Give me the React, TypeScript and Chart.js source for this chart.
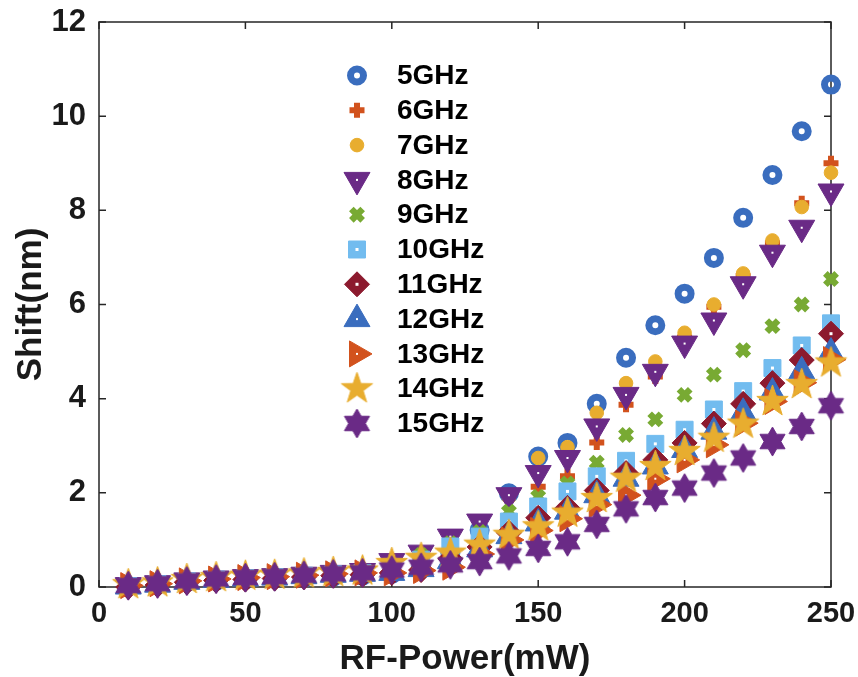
import React, { useEffect, useRef } from 'react';
import { Chart, registerables } from 'chart.js';
import { drawPoint } from 'chart.js/helpers';

Chart.register(...registerables);

const powers = [10, 20, 30, 40, 50, 60, 70, 80, 90, 100, 110, 120, 130, 140, 150, 160, 170, 180, 190, 200, 210, 220, 230, 240, 250];
const seriesNames = ['5GHz', '6GHz', '7GHz', '8GHz', '9GHz', '10GHz', '11GHz', '12GHz', '13GHz', '14GHz', '15GHz'];
const shift5 = [0.02, 0.05, 0.1, 0.13, 0.16, 0.18, 0.2, 0.22, 0.24, 0.28, 0.42, 0.72, 1.21, 1.99, 2.77, 3.06, 3.89, 4.87, 5.56, 6.23, 6.99, 7.84, 8.75, 9.68, 10.67];
const shift6 = [0.04, 0.08, 0.14, 0.18, 0.21, 0.23, 0.26, 0.29, 0.31, 0.36, 0.48, 0.68, 1.0, 1.45, 2.13, 2.35, 3.07, 3.87, 4.47, 5.3, 5.95, 6.6, 7.3, 8.15, 9.0];
const shift7 = [0.03, 0.07, 0.13, 0.17, 0.2, 0.22, 0.25, 0.28, 0.31, 0.38, 0.55, 0.82, 1.2, 1.9, 2.74, 2.97, 3.7, 4.33, 4.79, 5.4, 6.0, 6.66, 7.36, 8.07, 8.8];
const shift8 = [0.04, 0.08, 0.14, 0.18, 0.21, 0.23, 0.26, 0.3, 0.34, 0.55, 0.73, 1.07, 1.39, 1.95, 2.42, 2.74, 3.41, 4.08, 4.57, 5.17, 5.66, 6.43, 7.1, 7.63, 8.4];
const shift9 = [0.03, 0.07, 0.13, 0.17, 0.2, 0.22, 0.25, 0.28, 0.31, 0.42, 0.68, 0.93, 1.17, 1.6, 1.92, 2.2, 2.64, 3.23, 3.56, 4.08, 4.51, 5.03, 5.54, 6.0, 6.54];
const shift10 = [0.02, 0.06, 0.12, 0.16, 0.19, 0.21, 0.24, 0.27, 0.3, 0.35, 0.58, 0.86, 1.07, 1.39, 1.71, 2.03, 2.35, 2.68, 3.04, 3.34, 3.77, 4.16, 4.65, 5.13, 5.6];
const shift11 = [0.0, 0.04, 0.1, 0.14, 0.16, 0.18, 0.21, 0.24, 0.26, 0.3, 0.36, 0.6, 0.85, 1.15, 1.47, 1.68, 2.05, 2.42, 2.7, 3.06, 3.47, 3.89, 4.33, 4.82, 5.38];
const shift12 = [0.01, 0.05, 0.11, 0.15, 0.18, 0.2, 0.23, 0.26, 0.28, 0.3, 0.38, 0.55, 0.8, 1.08, 1.35, 1.6, 1.95, 2.3, 2.56, 2.91, 3.3, 3.7, 4.13, 4.58, 4.98];
const shift13 = [0.03, 0.07, 0.13, 0.17, 0.2, 0.22, 0.25, 0.28, 0.3, 0.3, 0.35, 0.42, 0.7, 1.0, 1.2, 1.45, 1.75, 1.95, 2.3, 2.7, 3.02, 3.48, 3.94, 4.34, 4.83];
const shift14 = [0.05, 0.09, 0.16, 0.2, 0.23, 0.25, 0.28, 0.31, 0.34, 0.5, 0.61, 0.72, 0.89, 1.1, 1.28, 1.57, 1.88, 2.31, 2.56, 2.88, 3.16, 3.46, 3.94, 4.3, 4.76];
const shift15 = [0.03, 0.07, 0.13, 0.17, 0.2, 0.22, 0.25, 0.28, 0.3, 0.36, 0.42, 0.47, 0.54, 0.66, 0.82, 0.96, 1.33, 1.66, 1.9, 2.1, 2.42, 2.74, 3.09, 3.41, 3.85];
const xTicks = [0, 50, 100, 150, 200, 250];
const yTicks = [0, 2, 4, 6, 8, 10, 12];

const allShifts = [shift5, shift6, shift7, shift8, shift9, shift10, shift11, shift12, shift13, shift14, shift15];

function makeStar(points: number, outer: number, inner: number, color: string): HTMLCanvasElement {
  const size = Math.ceil(outer * 2 + 4);
  const c = document.createElement('canvas');
  c.width = size;
  c.height = size;
  const g = c.getContext('2d')!;
  const cx = size / 2, cy = size / 2;
  g.beginPath();
  for (let k = 0; k < points * 2; k++) {
    const r = k % 2 === 0 ? outer : inner;
    const a = -Math.PI / 2 + (k * Math.PI) / points;
    const px = cx + r * Math.cos(a), py = cy + r * Math.sin(a);
    if (k === 0) g.moveTo(px, py); else g.lineTo(px, py);
  }
  g.closePath();
  g.fillStyle = color;
  g.fill();
  g.lineWidth = 1;
  g.strokeStyle = color;
  g.stroke();
  return c;
}

const BLUE = '#3a6dbe';
const ORANGE = '#d2521d';
const YELLOW = '#e8ad2f';
const PURPLE = '#6a2a86';
const GREEN = '#78aa33';
const LBLUE = '#72bcef';
const DRED = '#8c1a2e';

type Sty = { color: string; style: any; radius: number; rotation: number; border: number; fill: boolean; dot: number };

function App() {
  const ref = useRef<HTMLCanvasElement>(null);
  useEffect(() => {
    const styles: Sty[] = [
      { color: BLUE, style: 'circle', radius: 6.5, rotation: 0, border: 7, fill: false, dot: 0 },
      { color: ORANGE, style: 'cross', radius: 7.5, rotation: 0, border: 6, fill: true, dot: 0 },
      { color: YELLOW, style: 'circle', radius: 6.8, rotation: 0, border: 1, fill: true, dot: 0 },
      { color: PURPLE, style: 'triangle', radius: 15, rotation: 180, border: 1, fill: true, dot: 2 },
      { color: GREEN, style: 'crossRot', radius: 8, rotation: 0, border: 6.5, fill: true, dot: 0 },
      { color: LBLUE, style: 'rect', radius: 12, rotation: 0, border: 1, fill: true, dot: 3 },
      { color: DRED, style: 'rectRot', radius: 12.5, rotation: 0, border: 1, fill: true, dot: 3 },
      { color: BLUE, style: 'triangle', radius: 15, rotation: 0, border: 1, fill: true, dot: 2 },
      { color: ORANGE, style: 'triangle', radius: 15, rotation: 90, border: 1, fill: true, dot: 2 },
      { color: YELLOW, style: makeStar(5, 16.5, 6.5, YELLOW), radius: 16.5, rotation: 0, border: 0, fill: true, dot: 0 },
      { color: PURPLE, style: makeStar(6, 14.5, 8.4, PURPLE), radius: 14.5, rotation: 0, border: 0, fill: true, dot: 0 },
    ];

    const datasets = seriesNames.map((name, i) => {
      const s = styles[i];
      return {
        label: name,
        data: powers.map((p, j) => ({ x: p, y: allShifts[i][j] })),
        showLine: false,
        clip: false as any,
        order: -i,
        pointStyle: s.style,
        pointRadius: s.radius,
        pointRotation: s.rotation,
        pointBorderWidth: s.border,
        pointBorderColor: s.color,
        pointBackgroundColor: s.fill ? s.color : 'rgba(0,0,0,0)',
        pointHoverRadius: s.radius,
      };
    });

    const dotAt = (ctx: any, d: number, x: number, y: number) => {
      ctx.fillStyle = '#ffffff';
      ctx.fillRect(x - d / 2, y - d / 2, d, d);
    };

    const frame = {
      id: 'frame',
      beforeDatasetsDraw(chart: any) {
        const { ctx, chartArea } = chart;
        const { left, right, top, bottom } = chartArea;
        const xs = chart.scales.x, ys = chart.scales.y;
        ctx.save();
        ctx.strokeStyle = '#262626';
        ctx.lineWidth = 1.5;
        ctx.strokeRect(left, top, right - left, bottom - top);
        ctx.beginPath();
        xTicks.forEach((v) => {
          const px = xs.getPixelForValue(v);
          ctx.moveTo(px, bottom); ctx.lineTo(px, bottom - 7);
          ctx.moveTo(px, top); ctx.lineTo(px, top + 7);
        });
        yTicks.forEach((v) => {
          const py = ys.getPixelForValue(v);
          ctx.moveTo(left, py); ctx.lineTo(left + 7, py);
          ctx.moveTo(right, py); ctx.lineTo(right - 7, py);
        });
        ctx.stroke();
        ctx.restore();
      },
      afterDatasetDraw(chart: any, args: any) {
        const s = styles[args.index];
        if (!s || !s.dot) return;
        const ctx = chart.ctx;
        ctx.save();
        args.meta.data.forEach((pt: any) => dotAt(ctx, s.dot, pt.x, pt.y));
        ctx.restore();
      },
      afterDatasetsDraw(chart: any) {
        const ctx = chart.ctx;
        ctx.save();
        const mx = 357, tx = 397, y0 = 75.5, dy = 34.8;
        seriesNames.forEach((name, i) => {
          const s = styles[i];
          const y = y0 + i * dy;
          ctx.fillStyle = s.fill ? s.color : 'rgba(0,0,0,0)';
          ctx.strokeStyle = s.color;
          ctx.lineWidth = s.border;
          drawPoint(ctx, { pointStyle: s.style, rotation: s.rotation, radius: s.radius, borderWidth: s.border } as any, mx, y);
          if (s.dot) dotAt(ctx, s.dot, mx, y);
          ctx.fillStyle = '#000000';
          ctx.font = 'bold 28px "Liberation Sans", Arial, sans-serif';
          ctx.textBaseline = 'middle';
          ctx.textAlign = 'left';
          ctx.fillText(name, tx, y + 1);
        });
        ctx.restore();
      },
    };

    const zeroPad = (s: any) => {
      s.paddingLeft = 0;
      s.paddingRight = 0;
      s.paddingTop = 0;
      s.paddingBottom = 0;
    };

    const chart = new Chart(ref.current!, {
      type: 'scatter',
      data: { datasets: datasets as any },
      options: {
        animation: false,
        responsive: false,
        layout: { autoPadding: false, padding: { top: 22, right: 27, left: 0, bottom: 0 } },
        plugins: { legend: { display: false }, tooltip: { enabled: false } },
        scales: {
          x: {
            type: 'linear',
            min: 0,
            max: 250,
            grid: { display: false, drawTicks: false },
            border: { display: false },
            ticks: {
              stepSize: 50,
              padding: 10,
              color: '#1a1a1a',
              font: { family: '"Liberation Sans", Arial, sans-serif', size: 29, weight: 'bold' },
            },
            title: {
              display: true,
              text: 'RF-Power(mW)',
              color: '#1a1a1a',
              font: { family: '"Liberation Sans", Arial, sans-serif', size: 35, weight: 'bold', lineHeight: 1 },
              padding: { top: 0, bottom: 0 },
            },
            afterFit: (s: any) => { s.height = 90; zeroPad(s); },
          },
          y: {
            type: 'linear',
            min: 0,
            max: 12,
            grid: { display: false, drawTicks: false },
            border: { display: false },
            ticks: {
              stepSize: 2,
              padding: 13,
              color: '#1a1a1a',
              font: { family: '"Liberation Sans", Arial, sans-serif', size: 31, weight: 'bold' },
            },
            title: {
              display: true,
              text: 'Shift(nm)',
              color: '#1a1a1a',
              font: { family: '"Liberation Sans", Arial, sans-serif', size: 35, weight: 'bold', lineHeight: 1 },
              padding: { top: 14, bottom: 0 },
            },
            afterFit: (s: any) => { s.width = 99; zeroPad(s); },
          },
        },
      },
      plugins: [frame],
    });
    return () => chart.destroy();
  }, []);

  return (
    <div style={{ position: 'fixed', left: 0, top: 0, width: 858, height: 677, background: '#ffffff' }}>
      <canvas ref={ref} width={858} height={677} style={{ width: 858, height: 677 }} />
    </div>
  );
}

export default App;
